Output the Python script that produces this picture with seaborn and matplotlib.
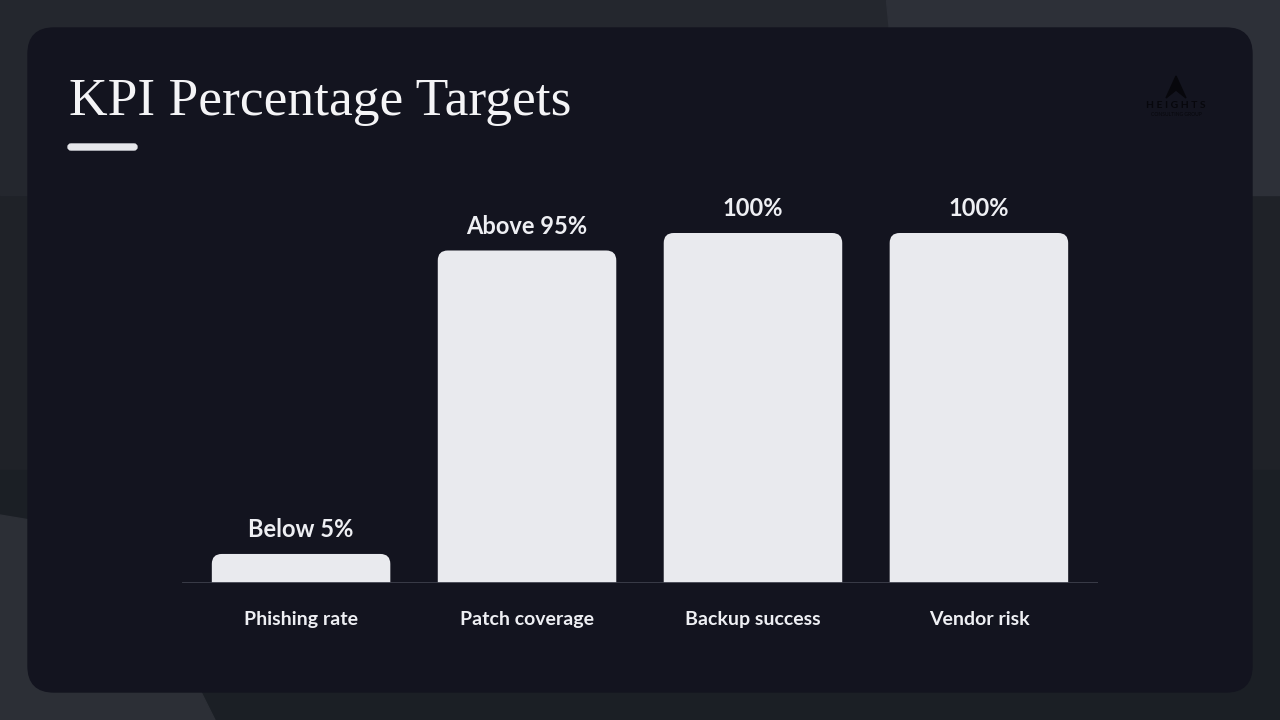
"""
KPI percentage targets - dark slide-style bar chart.
"""

import matplotlib
matplotlib.use("Agg")
import matplotlib.pyplot as plt
import seaborn as sns
import pandas as pd
from matplotlib.patches import FancyBboxPatch, Polygon, Rectangle

# --- data -----------------------------------------------------------------
categories = ["Phishing rate", "Patch coverage", "Backup success", "Vendor risk"]
bar_values = [8.3, 95, 100, 100]          # drawn heights (% of target scale)
value_labels = ["Below 5%", "Above 95%", "100%", "100%"]

df = pd.DataFrame({"kpi": categories, "value": bar_values})

BAR_COLOR = "#e9eaee"
TEXT_COLOR = "#eeeff3"
CARD_COLOR = "#13141f"

sns.set_theme(style="white")
plt.rcParams["font.family"] = ["Lato", "DejaVu Sans"]

fig = plt.figure(figsize=(12.8, 7.2), dpi=100)

# --- background / card (pixel coordinates) ---------------------------------
bg = fig.add_axes([0, 0, 1, 1])
bg.set_xlim(0, 1280)
bg.set_ylim(720, 0)
bg.axis("off")
bg.add_patch(Rectangle((0, 0), 1280, 720, color="#1f2228", zorder=0))
bg.add_patch(Rectangle((0, 0), 1280, 195, color="#24272e", zorder=0))
bg.add_patch(Polygon([(886, 0), (1280, 0), (1280, 195), (905, 195)],
                     color="#2d3038", zorder=0))
bg.add_patch(Rectangle((0, 470), 1280, 250, color="#1b1f25", zorder=0))
bg.add_patch(Polygon([(0, 515), (60, 525), (200, 690), (215, 720), (0, 720)],
                     color="#2c2f36", zorder=0))
bg.add_patch(FancyBboxPatch((28, 28), 1224, 664,
                            boxstyle="round,pad=0,rounding_size=26",
                            color=CARD_COLOR, zorder=1))

# title + accent underline
bg.text(69, 115, "KPI Percentage Targets", fontsize=38.5, color="#f4f4f6",
        family=["Liberation Serif", "DejaVu Serif"], va="baseline", zorder=3)
bg.add_patch(FancyBboxPatch((68, 144), 69, 6,
                            boxstyle="round,pad=0,rounding_size=3",
                            color="#e6e7eb", zorder=3))

# faint logo, top right
bg.add_patch(Polygon([(1176, 76), (1166, 98), (1176, 90), (1186, 98)],
                     closed=True, color="#07070c", zorder=3))
bg.text(1176, 106, "H E I G H T S", fontsize=7.5, fontweight="bold",
        color="#07070c", ha="center", va="center", zorder=3)
bg.text(1176, 115, "CONSULTING GROUP", fontsize=3.6, color="#07070c",
        ha="center", va="center", zorder=3)

# --- chart ------------------------------------------------------------------
ax = fig.add_axes([182 / 1280, (720 - 583) / 720, 916 / 1280, 350 / 720])
ax.set_facecolor("none")
sns.barplot(data=df, x="kpi", y="value", color=BAR_COLOR, width=0.79,
            saturation=1, ax=ax, zorder=2)
ax.set_xlim(-0.527, 3.527)
ax.set_ylim(0, 100)

# swap the square bars for bars with rounded top corners
aspect = (916 / 4.054) / 3.5   # px per x unit / px per y unit
for bar, label in zip(list(ax.patches), value_labels):
    x0, w, h = bar.get_x(), bar.get_width(), bar.get_height()
    bar.set_visible(False)
    ax.add_patch(FancyBboxPatch((x0, -6), w, h + 6,
                                boxstyle=f"round,pad=0,rounding_size={10 / 226:.4f}",
                                mutation_aspect=aspect, color=BAR_COLOR,
                                lw=0, zorder=2))
    ax.annotate(label, (x0 + w / 2, h), xytext=(0, 9), textcoords="offset points",
                ha="center", va="bottom", fontsize=17, fontweight="bold",
                color=TEXT_COLOR, annotation_clip=False)

ax.axhline(0, color="#3d3f4b", lw=2, zorder=3)
sns.despine(ax=ax, left=True, bottom=True)
ax.set_yticks([])
ax.set_xlabel("")
ax.set_ylabel("")
ax.tick_params(axis="x", length=0, pad=20.5, labelsize=14, labelcolor=TEXT_COLOR)
for t in ax.get_xticklabels():
    t.set_fontweight("bold")

fig.savefig("out.png", dpi=100, facecolor=fig.get_facecolor())
